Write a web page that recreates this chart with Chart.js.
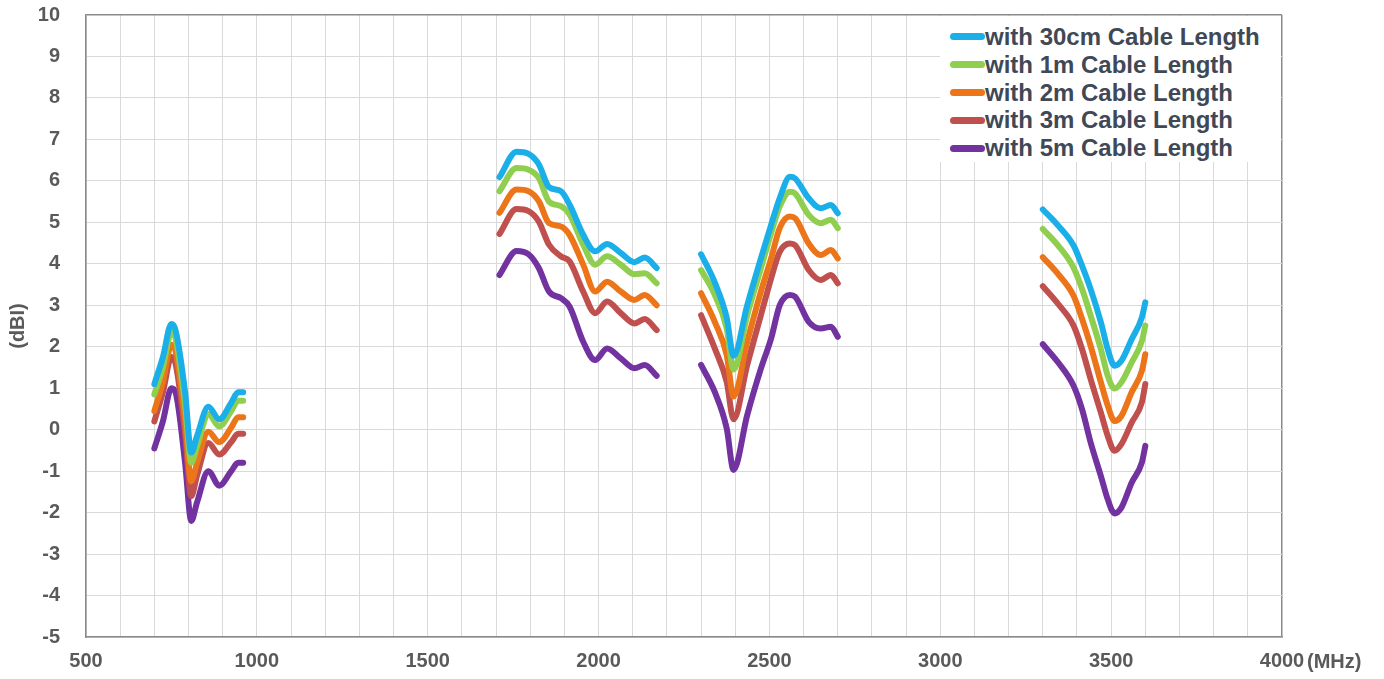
<!DOCTYPE html>
<html>
<head>
<meta charset="utf-8">
<script src="https://cdn.jsdelivr.net/npm/chart.js@4.4.0/dist/chart.umd.min.js"></script>
<style>
    body { margin: 0; background: #ffffff; }
    #wrap { position: relative; width: 1384px; height: 679px; }
    #legend {
        position: absolute; left: 940px; top: 16px; width: 341px; height: 146px;
        background: #ffffff; font: bold 24px "Liberation Sans", Arial, sans-serif; color: #404856;
        padding-top: 7px; box-sizing: border-box;
    }
    .item { height: 27.8px; display: flex; align-items: center; padding-left: 10px; }
    .swatch { width: 35px; height: 7px; border-radius: 4px; margin-right: 0px; }
</style>
</head>
<body>
<div id="wrap">
    <canvas id="gainChart" width="1384" height="679"></canvas>
    <div id="legend"></div>
</div>
<script>
// frequencies (MHz); 1300, 2235 and 3000 are gaps between the bands
const freqMHz = [700, 725, 750, 762, 790, 808, 825, 858, 890, 925, 945, 960, 1300,
    1710, 1760, 1795, 1825, 1855, 1890, 1915, 1955, 1990, 2025, 2065, 2105, 2135, 2170, 2235,
    2300, 2340, 2375, 2395, 2435, 2475, 2505, 2530, 2560, 2575, 2615, 2650, 2680, 2700, 3000,
    3300, 3345, 3390, 3415, 3440, 3470, 3490, 3510, 3530, 3560, 3590, 3600];

const gain30cm = [1.1, 1.75, 2.55, 2.4, 0.9, -0.55, -0.15, 0.55, 0.25, 0.65, 0.9, 0.9, null,
    6.09, 6.7, 6.65, 6.4, 5.85, 5.75, 5.43, 4.7, 4.3, 4.48, 4.26, 4.04, 4.15, 3.9, null,
    4.23, 3.55, 2.7, 1.78, 3.0, 4.13, 4.94, 5.58, 6.1, 6.06, 5.58, 5.34, 5.42, 5.22, null,
    5.31, 4.92, 4.44, 3.95, 3.39, 2.59, 1.94, 1.54, 1.66, 2.18, 2.71, 3.07];

const gain1m = [0.85, 1.5, 2.35, 2.2, 0.6, -0.8, -0.4, 0.38, 0.08, 0.45, 0.7, 0.7, null,
    5.75, 6.31, 6.27, 6.07, 5.5, 5.39, 5.19, 4.46, 3.98, 4.18, 3.98, 3.75, 3.77, 3.53, null,
    3.85, 3.25, 2.44, 1.45, 2.76, 3.89, 4.74, 5.38, 5.74, 5.7, 5.18, 4.98, 5.06, 4.86, null,
    4.84, 4.44, 3.91, 3.39, 2.75, 1.94, 1.3, 0.99, 1.14, 1.62, 2.14, 2.51];

const gain2m = [0.45, 1.15, 2.05, 1.9, 0.2, -1.25, -0.8, -0.05, -0.3, 0.05, 0.3, 0.3, null,
    5.23, 5.79, 5.75, 5.51, 4.98, 4.9, 4.7, 3.98, 3.33, 3.57, 3.33, 3.13, 3.25, 3.0, null,
    3.29, 2.6, 1.8, 0.8, 2.12, 3.33, 4.13, 4.86, 5.14, 5.1, 4.49, 4.21, 4.33, 4.13, null,
    4.16, 3.75, 3.23, 2.67, 2.02, 1.14, 0.58, 0.21, 0.33, 0.9, 1.42, 1.82];

const gain3m = [0.2, 0.9, 1.75, 1.6, -0.1, -1.6, -1.1, -0.32, -0.6, -0.3, -0.1, -0.1, null,
    4.72, 5.32, 5.27, 5.02, 4.46, 4.18, 4.06, 3.33, 2.81, 3.09, 2.81, 2.56, 2.67, 2.4, null,
    2.76, 1.96, 1.15, 0.25, 1.56, 2.76, 3.65, 4.29, 4.49, 4.45, 3.85, 3.61, 3.73, 3.53, null,
    3.46, 3.03, 2.51, 1.94, 1.22, 0.41, -0.15, -0.51, -0.35, 0.17, 0.66, 1.1];

const gain5m = [-0.45, 0.2, 1.0, 0.9, -0.8, -2.2, -1.75, -1.0, -1.35, -1.0, -0.8, -0.8, null,
    3.73, 4.31, 4.23, 3.9, 3.33, 3.17, 2.97, 2.12, 1.68, 1.96, 1.72, 1.48, 1.56, 1.3, null,
    1.56, 0.91, 0.03, -0.97, 0.35, 1.47, 2.2, 3.0, 3.25, 3.21, 2.6, 2.44, 2.48, 2.24, null,
    2.06, 1.62, 1.06, 0.49, -0.31, -1.12, -1.68, -2.02, -1.88, -1.28, -0.79, -0.39];

const seriesNames = ['with 30cm Cable Length', 'with 1m Cable Length', 'with 2m Cable Length',
    'with 3m Cable Length', 'with 5m Cable Length'];
const seriesValues = [gain30cm, gain1m, gain2m, gain3m, gain5m];
const seriesColors = ['#1aafe8', '#8fce4e', '#ec7419', '#c0504d', '#7232a0'];

const xMin = 500, xMax = 4000, xStep = 100, xLabelStep = 500;
const yMin = -5, yMax = 10, yStep = 1;

const tickFont = { family: '"Liberation Sans", Arial, sans-serif', size: 20, weight: 'bold' };
const textColor = '#5a5a5a';
const frameColor = '#8a8a8a';
const gridColor = '#d9d9d9';

const datasets = seriesNames.map((name, i) => ({
    label: name,
    data: freqMHz.map((f, j) => ({ x: f, y: seriesValues[i][j] })),
    borderColor: seriesColors[i],
    backgroundColor: seriesColors[i],
    borderWidth: 6,
    borderCapStyle: 'round',
    borderJoinStyle: 'round',
    cubicInterpolationMode: 'monotone',
    pointRadius: 0,
    spanGaps: false,
    fill: false
}));

// "(MHz)" written to the right of the last x label
const unitLabel = {
    id: 'unitLabel',
    afterDraw(chart) {
        const ctx = chart.ctx;
        const x = chart.scales.x.getPixelForValue(xMax);
        ctx.save();
        ctx.font = 'bold 20px "Liberation Sans", Arial, sans-serif';
        ctx.fillStyle = textColor;
        ctx.textAlign = 'left';
        ctx.textBaseline = 'middle';
        ctx.fillText('(MHz)', x + 25, 662);
        ctx.restore();
    }
};

const ctx = document.getElementById('gainChart').getContext('2d');
const chart = new Chart(ctx, {
    type: 'line',
    data: { datasets: datasets },
    options: {
        responsive: false,
        animation: false,
        layout: { padding: { top: 15, right: 102, left: 0, bottom: 0 } },
        plugins: {
            legend: { display: false },
            tooltip: { enabled: false }
        },
        scales: {
            x: {
                type: 'linear',
                min: xMin,
                max: xMax,
                afterFit: axis => { axis.height = 42; axis.paddingLeft = 0; axis.paddingRight = 0; },
                afterBuildTicks: axis => {
                    axis.ticks = [];
                    for (let v = xMin; v <= xMax; v += xStep) axis.ticks.push({ value: v });
                },
                ticks: {
                    autoSkip: false,
                    maxRotation: 0,
                    padding: 12,
                    color: textColor,
                    font: tickFont,
                    callback: v => (v % xLabelStep === 0 ? String(v) : '')
                },
                grid: {
                    drawTicks: false,
                    color: c => (c.tick && c.tick.value === xMax ? frameColor : gridColor),
                    lineWidth: c => (c.tick && c.tick.value === xMax ? 1.5 : 1)
                },
                border: { display: true, color: frameColor, width: 1.5 }
            },
            y: {
                min: yMin,
                max: yMax,
                afterFit: axis => { axis.width = 86; axis.paddingTop = 0; axis.paddingBottom = 0; },
                ticks: {
                    stepSize: yStep,
                    padding: 26,
                    color: textColor,
                    font: tickFont
                },
                grid: {
                    drawTicks: false,
                    color: c => (c.tick && c.tick.value === yMax ? frameColor : gridColor),
                    lineWidth: c => (c.tick && c.tick.value === yMax ? 1.5 : 1)
                },
                border: { display: true, color: frameColor, width: 1.5 },
                title: {
                    display: true,
                    text: '(dBI)',
                    color: textColor,
                    font: tickFont,
                    padding: { top: 6, bottom: 0 }
                }
            }
        }
    },
    plugins: [unitLabel]
});

// legend box inside the plot, top right
const legendBox = document.getElementById('legend');
seriesNames.forEach((name, i) => {
    const row = document.createElement('div');
    row.className = 'item';
    const sw = document.createElement('span');
    sw.className = 'swatch';
    sw.style.background = seriesColors[i];
    const txt = document.createElement('span');
    txt.textContent = name;
    row.appendChild(sw);
    row.appendChild(txt);
    legendBox.appendChild(row);
});
</script>
</body>
</html>
